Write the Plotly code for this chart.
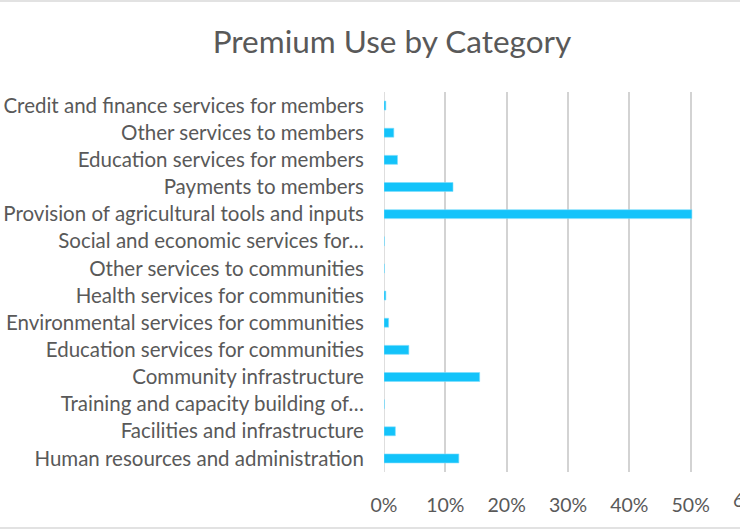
import plotly.graph_objects as go

categories = [
    "Human resources and administration",
    "Facilities and infrastructure",
    "Training and capacity building of…",
    "Community infrastructure",
    "Education services for communities",
    "Environmental services for communities",
    "Health services for communities",
    "Other services to communities",
    "Social and economic services for…",
    "Provision of agricultural tools and inputs",
    "Payments to members",
    "Education services for members",
    "Other services to members",
    "Credit and finance services for members",
]
values = [0.122, 0.0185, 0.0005, 0.156, 0.0405, 0.0075, 0.003, 0.0005, 0.0005,
          0.502, 0.1125, 0.022, 0.016, 0.003]
tick_vals = [0, 0.1, 0.2, 0.3, 0.4, 0.5, 0.6]
tick_text = ["0%", "10%", "20%", "30%", "40%", "50%", "60%"]

W, H = 740, 530
left, top, bottom = 384, 92, 472
px_per_unit = (752 - 384) / 0.6
xmax = (W - left) / px_per_unit

text_color = "#595959"
font_family = "Lato, 'Open Sans', sans-serif"

fig = go.Figure(go.Bar(
    x=values, y=categories, orientation="h",
    marker=dict(color="#13C3FA", line=dict(color="#7FDDFB", width=0.6)),
    width=0.33,
))

fig.update_layout(
    width=W, height=H,
    margin=dict(l=left, r=0, t=top, b=H - bottom, pad=0),
    paper_bgcolor="white", plot_bgcolor="white",
    font=dict(family=font_family, color=text_color, size=20),
    title=dict(text="Premium Use by Category", x=392 / W, xanchor="center",
               y=1 - 42 / H, yanchor="middle",
               font=dict(size=31.5, color=text_color, family=font_family)),
    showlegend=False,
    shapes=[
        dict(type="line", xref="paper", yref="paper", x0=-left / (W - left), x1=1,
             y0=1 + (top - 1) / (bottom - top), y1=1 + (top - 1) / (bottom - top),
             line=dict(color="#D9D9D9", width=1.5)),
        dict(type="line", xref="paper", yref="paper", x0=-left / (W - left), x1=1,
             y0=-(528 - bottom) / (bottom - top), y1=-(528 - bottom) / (bottom - top),
             line=dict(color="#D9D9D9", width=1.5)),
    ],
    annotations=[
        dict(x=tick_vals[-1] / xmax, y=0, xref="paper", yref="paper", yshift=-(499 - bottom),
             text=tick_text[-1], showarrow=False, xanchor="center", yanchor="middle",
             font=dict(size=19.5, color=text_color, family=font_family)),
    ],
)

fig.update_xaxes(
    range=[0, xmax], tickvals=tick_vals[:-1], ticktext=tick_text[:-1],
    showgrid=True, gridcolor="#D3D3D3", gridwidth=1.5,
    zeroline=False, showline=False, automargin=False,
    ticks="outside", ticklen=16, tickcolor="rgba(0,0,0,0)",
    tickfont=dict(size=19.5, color=text_color),
)
fig.update_yaxes(
    categoryorder="array", categoryarray=categories,
    showgrid=False, zeroline=False, automargin=False,
    showline=False,
    ticks="outside", ticklen=15, tickcolor="rgba(0,0,0,0)",
    tickfont=dict(size=20.5, color=text_color),
)
fig.add_vline(x=0, line=dict(color="#D3D3D3", width=1.5), layer="below")

fig.write_html("out.html", config={"displayModeBar": False},
               post_script="document.body.style.margin='0';document.body.style.overflow='hidden';")
